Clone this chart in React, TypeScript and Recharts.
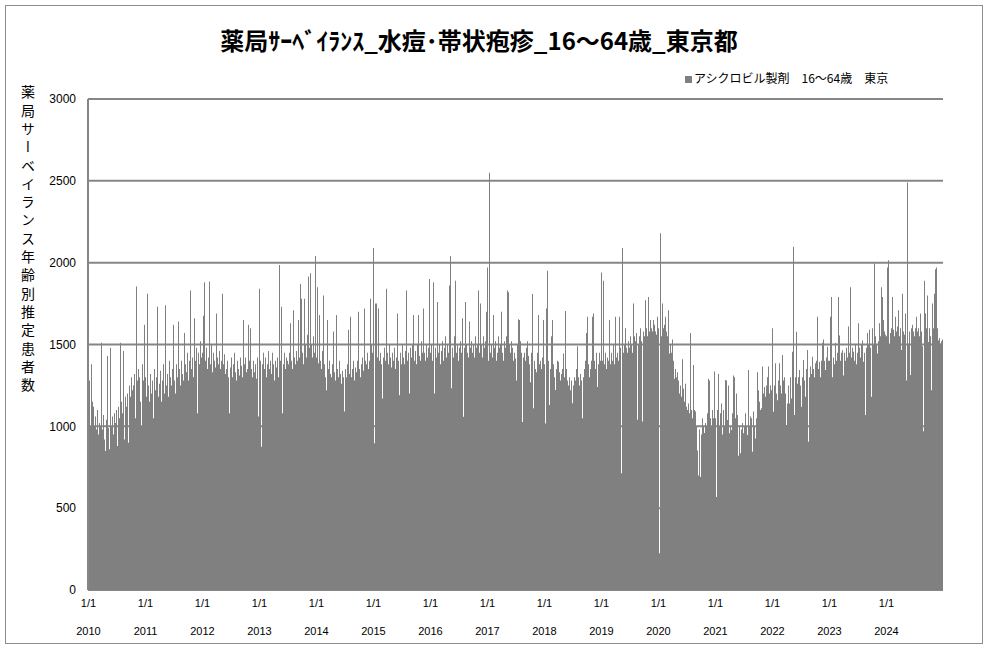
import React from 'react';
import { BarChart, Bar, XAxis, YAxis, CartesianGrid } from 'recharts';

// one value per pixel column of the original plot, 57 columns per year
const years = [2010, 2011, 2012, 2013, 2014, 2015, 2016, 2017, 2018, 2019, 2020, 2021, 2022, 2023, 2024];

const y2010 = [
  1050, 1280, 1000, 1380, 1150, 1120, 1000, 1060, 980, 1100,
  950, 1020, 1000, 1510, 980, 1070, 920, 850, 1040, 1430,
  990, 860, 1480, 1000, 1060, 950, 1080, 1020, 1100, 880,
  1120, 1050, 1510, 1150, 1080, 1460, 920, 1180, 1120, 1200,
  900, 1250, 1180, 1300, 1220, 1250, 1320, 1050, 1855, 1280,
  1350, 1300, 1150, 1000, 1380, 1280, 1620,
];
const y2011 = [
  1300, 1180, 1810, 1250, 1150, 1320, 1200, 1280, 1050, 1350,
  1220, 1300, 1730, 1180, 1260, 1340, 1150, 1280, 1380, 1200,
  1740, 1250, 1320, 1180, 1400, 1300, 1250, 1350, 1620, 1280,
  1200, 1380, 1300, 1640, 1350, 1250, 1400, 1320, 1280, 1570,
  1380, 1330, 1450, 1280, 1400, 1830, 1350, 1420, 1300, 1660,
  1400, 1480, 1080, 1450, 1380, 1520, 1420,
];
const y2012 = [
  1450, 1675, 1880, 1400, 1480, 1350, 1420, 1885, 1380, 1500,
  1330, 1450, 1400, 1360, 1690, 1420, 1380, 1460, 1350, 1400,
  1810, 1380, 1440, 1320, 1350, 1400, 1300, 1080, 1360, 1420,
  1300, 1380, 1450, 1330, 1280, 1400, 1350, 1310, 1420, 1370,
  1300, 1650, 1380, 1420, 1330, 1350, 1620, 1400, 1600, 1350,
  1300, 1400, 1330, 1380, 1290, 1420, 1060,
];
const y2013 = [
  1840, 1400, 875, 1380, 1450, 1350, 1420, 1300, 1380, 1460,
  1350, 1400, 1320, 1450, 1380, 1280, 1400, 1360, 1420, 1300,
  1985, 1400, 1730, 1080, 1380, 1450, 1350, 1420, 1400, 1380,
  1450, 1630, 1400, 1350, 1710, 1420, 1380, 1460, 1400, 1650,
  1420, 1870, 1780, 1450, 1380, 1780, 1500, 1420, 1560, 1915,
  1480, 1935, 1500, 1420, 1550, 1450, 2040,
];
const y2014 = [
  1420, 1850, 1385, 1680, 1400, 1350, 1460, 1800, 1380, 1300,
  1220, 1650, 1350, 1400, 1320, 1300, 1380, 1580, 1330, 1280,
  1680, 1350, 1300, 1400, 1320, 1260, 1340, 1300, 1090, 1350,
  1300, 1380, 1590, 1320, 1670, 1300, 1350, 1400, 1280, 1360,
  1330, 1400, 1700, 1350, 1300, 1380, 1420, 1340, 1720, 1400,
  1380, 1450, 1350, 1400, 1780, 1500, 1450,
];
const y2015 = [
  2090, 896, 1750, 1750, 1420, 1720, 1400, 1450, 1380, 1170,
  1420, 1480, 1400, 1840, 1450, 1380, 1500, 1420, 1360, 1450,
  1400, 1480, 1350, 1420, 1690, 1400, 1190, 1450, 1380, 1500,
  1420, 1380, 1460, 1830, 1400, 1450, 1200, 1480, 1420, 1500,
  1680, 1400, 1460, 1380, 1500, 1680, 1430, 1400, 1520, 1450,
  1720, 1450, 1400, 1500, 1420, 1480, 1900,
];
const y2016 = [
  1450, 1500, 1400, 1880, 1200, 1480, 1420, 1760, 1450, 1500,
  1380, 1460, 1520, 1400, 1480, 1550, 1420, 1500, 1450, 1860,
  2040, 1232, 1480, 1420, 1550, 1890, 1450, 1500, 1400, 1480,
  1520, 1450, 1660, 1059, 1480, 1760, 1500, 1450, 1420, 1640,
  1480, 1520, 1450, 1500, 1420, 1550, 1480, 1500, 1830, 1450,
  1750, 1500, 1420, 1550, 1480, 1520, 1700,
];
const y2017 = [
  1970, 1400, 2550, 1450, 1500, 1420, 1680, 1480, 1520, 1400,
  1450, 1550, 1480, 1500, 1700, 1450, 1400, 1520, 1480, 1550,
  1830, 1820, 1500, 1450, 1520, 1480, 1400, 1450, 1415, 1280,
  1500, 1655, 1650, 1520, 1450, 1027, 1420, 1450, 1400, 1480,
  1520, 1430, 1380, 1270, 1450, 1808, 1110, 1400, 1350, 1330,
  1450, 1680, 1380, 1400, 1350, 1420, 1650,
];
const y2018 = [
  1380, 1018, 1720, 1950, 1400, 1130, 1350, 1550, 1650, 1380,
  1300, 1222, 1350, 1400, 1395, 1330, 1280, 1320, 1350, 1445,
  1300, 1704, 1350, 1280, 1250, 1300, 1220, 1280, 1141, 1250,
  1300, 1280, 1350, 1490, 1300, 1250, 1320, 1280, 1050, 1300,
  1350, 1400, 1570, 1670, 1380, 1300, 1350, 1400, 1670, 1690,
  1400, 1350, 1450, 1240, 1380, 1450, 1400,
];
const y2019 = [
  1940, 1400, 1890, 1380, 1450, 1350, 1420, 1400, 1650, 1380,
  1450, 1400, 1500, 1380, 1670, 1420, 1450, 1400, 1670, 1480,
  713, 2090, 1450, 1500, 1600, 1480, 1450, 1520, 1480, 1550,
  1500, 1450, 1750, 1550, 1520, 1570, 1040, 1500, 1550, 1600,
  1520, 1030, 1580, 1550, 1770, 1600, 1550, 1790, 1580, 1650,
  1600, 1580, 1650, 1620, 1580, 1560, 1670,
];
const y2020 = [
  1600, 224, 2180, 1550, 1750, 1600, 1620, 1670, 1580, 1550,
  1710, 1445, 1500, 1450, 1530, 1400, 1290, 1350, 1300, 1330,
  1280, 1200, 1250, 1180, 1410, 1230, 1150, 1260, 1120, 1100,
  1140, 1080, 1571, 1100, 1050, 1375, 1100, 1090, 1000, 853,
  700, 980, 690, 950, 1050, 1000, 960, 1020, 1000, 1080,
  1290, 1280, 1050, 1000, 1100, 1050, 1335,
];
const y2021 = [
  1050, 568, 1100, 1320, 1000, 1080, 1140, 950, 1100, 1000,
  1283, 1280, 1039, 1250, 957, 1000, 977, 1080, 1310, 1300,
  1050, 1200, 1070, 820, 1000, 835, 980, 1020, 957, 1000,
  1080, 1000, 947, 1344, 1000, 1060, 1050, 845, 1090, 1000,
  925, 1050, 1330, 1220, 1150, 1100, 1110, 1365, 1200, 1240,
  1180, 1250, 1300, 1365, 1200, 1250, 1220,
];
const y2022 = [
  1600, 1089, 1250, 1385, 1200, 1160, 1280, 1385, 1250, 1200,
  1436, 1280, 1300, 1200, 1008, 1140, 1250, 1140, 1300, 1170,
  1456, 2098, 1070, 1300, 1578, 1260, 1300, 1344, 1250, 1120,
  1300, 1405, 1280, 1180, 1350, 1466, 906, 1300, 1365, 1320,
  1425, 1350, 1300, 1385, 1400, 1670, 1350, 1395, 1300, 1400,
  1510, 1530, 1400, 1344, 1420, 1486, 1400,
];
const y2023 = [
  1400, 1670, 1790, 1300, 1420, 1380, 1510, 1400, 1450, 1790,
  1555, 1400, 1450, 1465, 1310, 1450, 1400, 1480, 1420, 1610,
  1450, 1850, 1420, 1480, 1455, 1400, 1500, 1380, 1450, 1630,
  1480, 1420, 1500, 1525, 1395, 1450, 1070, 1480, 1570, 1500,
  1590, 1480, 1180, 1600, 1500, 1995, 1550, 1500, 1445, 1520,
  1630, 1550, 1850, 1790, 1650, 1580, 1560,
];
const y2024 = [
  1550, 1970, 2015, 1500, 1570, 1600, 1790, 1590, 1550, 1670,
  1580, 1610, 1710, 1550, 1600, 1466, 1810, 1580, 1560, 1690,
  1280, 2490, 1505, 1580, 1314, 1600, 1620, 1580, 1550, 1600,
  1670, 1580, 1600, 1550, 1690, 1580, 1490, 970, 1890, 1690,
  1600, 1800, 1515, 1600, 1550, 1220, 1750, 1600, 1810, 1960,
  1970, 1600, 1525, 1540, 1505, 1520, 1530,
];

const yearSeries = [y2010, y2011, y2012, y2013, y2014, y2015, y2016, y2017, y2018, y2019, y2020, y2021, y2022, y2023, y2024];
const yTicks = [0, 500, 1000, 1500, 2000, 2500, 3000];
const seriesName = 'アシクロビル製剤　16～64歳　東京';

const data = yearSeries.flatMap((vals, k) => vals.map((v, i) => ({ key: `${years[k]}-${i}`, v })));
const yearTicks = years.map((y) => `${y}-0`);

const jp = "'Noto Sans CJK JP', sans-serif";
const num = "'Liberation Sans', Arial, sans-serif";

const YearTick = (props: any) => {
  const { x, y, payload } = props;
  const year = String(payload.value).split('-')[0];
  return (
    <g>
      <text x={x} y={y + 9} textAnchor="middle" fontSize={11} fontFamily={num} fill="#000">1/1</text>
      <text x={x} y={y + 37} textAnchor="middle" fontSize={11} fontFamily={num} fill="#000">{year}</text>
    </g>
  );
};

export default function App() {
  return (
    <div style={{ position: 'absolute', left: 0, top: 0, width: 987, height: 648, background: '#fff' }}>
      <div style={{ position: 'absolute', left: 5, top: 5, width: 976, height: 637, border: '1px solid #8c8c8c' }} />
      <div style={{ position: 'absolute', left: 0, top: 26, width: 958, textAlign: 'center', fontFamily: jp, fontWeight: 'bold', fontSize: 24, lineHeight: '28px', color: '#000' }}>
        薬局ｻｰﾍﾞｲﾗﾝｽ_水痘･帯状疱疹_16～64歳_東京都
      </div>
      <div style={{ position: 'absolute', left: 21, top: 85, writingMode: 'vertical-rl', fontFamily: jp, fontSize: 14, letterSpacing: '4.3px', lineHeight: 1, color: '#000' }}>
        薬局サーベイランス年齢別推定患者数
      </div>
      {/* legend */}
      <div style={{ position: 'absolute', left: 685, top: 70, fontFamily: jp, fontSize: 12, lineHeight: '16px', color: '#000', whiteSpace: 'nowrap' }}>
        <span style={{ display: 'inline-block', width: 7, height: 7, background: '#808080', marginRight: 2 }} />
        {seriesName}
      </div>
      <div style={{ position: 'absolute', left: 0, top: 0 }}>
        <BarChart width={987} height={648} data={data} barCategoryGap={0} barGap={0}
          margin={{ top: 99, right: 44, bottom: 28, left: 48 }}>
          <CartesianGrid vertical={false} stroke="#868686" strokeWidth={2} />
          <XAxis dataKey="key" ticks={yearTicks} interval={0} axisLine={false} tickLine={false} height={30} tick={<YearTick />} />
          <YAxis domain={[0, 3000]} ticks={yTicks} width={40} tickLine={false} tickMargin={6}
            axisLine={{ stroke: '#868686', strokeWidth: 2 }}
            tick={{ fontSize: 12, fontFamily: num, fill: '#000' }} />
          <Bar dataKey="v" name={seriesName} fill="#808080" isAnimationActive={false} />
        </BarChart>
      </div>
    </div>
  );
}
